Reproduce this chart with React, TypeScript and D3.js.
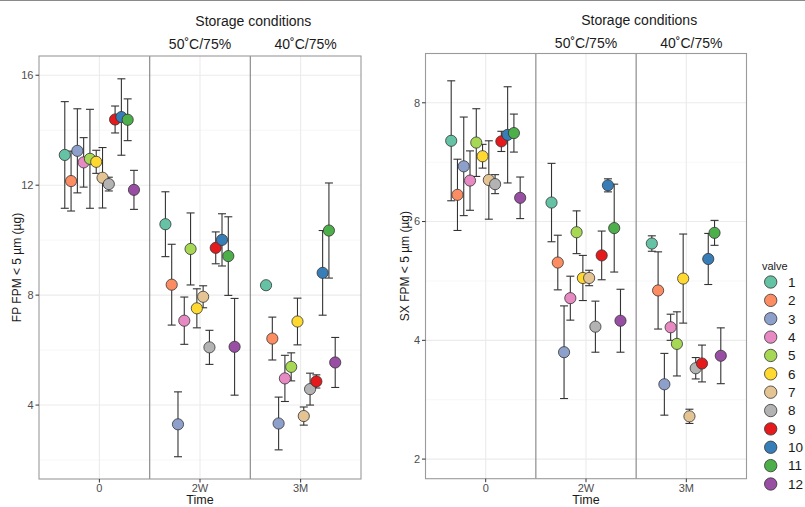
import React from "react";
import * as d3 from "d3";

const timePoints = ["0", "2W", "3M"];
const valves = ["1", "2", "3", "4", "5", "6", "7", "8", "9", "10", "11", "12"];
const valveColors = [
  "#66C2A5", "#FC8D62", "#8DA0CB", "#E78AC3", "#A6D854", "#FFD92F",
  "#E5C494", "#B3B3B3", "#E41A1C", "#377EB8", "#4DAF4A", "#984EA3",
];

// FP FPM < 5 µm (µg): mean and SD per time point (rows) per valve (cols)
const fpMean = [
  [13.10, 12.15, 13.25, 12.83, 12.96, 12.85, 12.27, 12.04, 14.39, 14.48, 14.38, 11.83],
  [10.58, 8.38, 3.30, 7.07, 9.68, 7.52, 7.94, 6.10, 9.72, 10.01, 9.42, 6.12],
  [8.36, 6.42, 3.33, 4.97, 5.39, 7.04, 3.60, 4.58, 4.86, 8.81, 10.35, 5.55],
];
const fpSd = [
  [1.94, 1.09, 1.53, 0.90, 1.80, 0.42, 1.10, 0.25, 0.49, 1.39, 0.76, 0.71],
  [1.18, 1.47, 1.18, 0.86, 1.31, 0.71, 0.40, 0.62, 0.58, 0.95, 1.43, 1.76],
  [0, 0.78, 0.96, 0.84, 0.51, 0.85, 0.33, 0.58, 0.24, 1.54, 1.73, 0.91],
];

// SX FPM < 5 µm (µg)
const sxMean = [
  [7.36, 6.45, 6.93, 6.69, 7.33, 7.10, 6.70, 6.63, 7.35, 7.46, 7.49, 6.40],
  [6.32, 5.31, 3.80, 4.71, 5.82, 5.05, 5.05, 4.23, 5.43, 6.61, 5.89, 4.33],
  [5.63, 4.84, 3.26, 4.22, 3.94, 5.04, 2.72, 3.53, 3.61, 5.37, 5.81, 3.74],
];
const sxSd = [
  [1.01, 0.60, 0.83, 0.50, 0.57, 0.20, 0.66, 0.16, 0.17, 0.81, 0.32, 0.35],
  [0.66, 0.46, 0.78, 0.37, 0.36, 0.38, 0.13, 0.43, 0.41, 0.11, 0.74, 0.53],
  [0.13, 0.65, 0.52, 0.22, 0.54, 0.75, 0.12, 0.18, 0.31, 0.43, 0.21, 0.47],
];

const fpTicks = [4, 8, 12, 16];
const fpMinor = [2, 6, 10, 14];
const sxTicks = [2, 4, 6, 8];
const sxMinor = [3, 5, 7];

const stripLabels = ["50˚C/75%", "40˚C/75%"];
const FONT = "Liberation Sans, Arial, Helvetica, sans-serif";

type PanelProps = {
  x0: number; x1: number; y0: number; y1: number;
  domain: [number, number];
  ticks: number[]; minor: number[];
  mean: number[][]; sd: number[][];
  yLabel: string; yLabelX: number;
  titleY: number; stripY: number;
};

function Panel(p: PanelProps) {
  const x = d3.scalePoint<string>().domain(timePoints).range([p.x0, p.x1]).padding(0.6);
  const step = x.step();
  const y = d3.scaleLinear().domain(p.domain).range([p.y1, p.y0]);
  const dodge = (i: number) => ((i - (valves.length - 1) / 2) / valves.length) * 0.75 * step;
  const capHalf = 4;
  const sep1 = (x("0")! + x("2W")!) / 2;
  const sep2 = (x("2W")! + x("3M")!) / 2;
  const strip1 = (sep1 + sep2) / 2;
  const strip2 = (sep2 + p.x1) / 2;
  const titleX = (sep1 + p.x1) / 2 - 2;
  const midY = (p.y0 + p.y1) / 2;

  return (
    <g>
      <rect x={p.x0} y={p.y0} width={p.x1 - p.x0} height={p.y1 - p.y0} fill="#ffffff" />
      {p.minor.map((v) => (
        <line key={"mn" + v} x1={p.x0} x2={p.x1} y1={y(v)} y2={y(v)} stroke="#f2f2f2" strokeWidth={0.6} />
      ))}
      {p.ticks.map((v) => (
        <line key={"mj" + v} x1={p.x0} x2={p.x1} y1={y(v)} y2={y(v)} stroke="#ebebeb" strokeWidth={1.1} />
      ))}
      {timePoints.map((t) => (
        <line key={"vx" + t} x1={x(t)} x2={x(t)} y1={p.y0} y2={p.y1} stroke="#ebebeb" strokeWidth={1.1} />
      ))}
      <line x1={sep1} x2={sep1} y1={p.y0} y2={p.y1} stroke="#8c8c8c" strokeWidth={1.2} />
      <line x1={sep2} x2={sep2} y1={p.y0} y2={p.y1} stroke="#8c8c8c" strokeWidth={1.2} />
      <rect x={p.x0} y={p.y0} width={p.x1 - p.x0} height={p.y1 - p.y0} fill="none" stroke="#9a9a9a" strokeWidth={1.1} />

      {/* error bars */}
      {timePoints.map((t, ti) =>
        valves.map((v, vi) => {
          const cx = x(t)! + dodge(vi);
          const m = p.mean[ti][vi];
          const s = p.sd[ti][vi];
          const yt = y(m + s);
          const yb = y(m - s);
          return (
            <g key={"eb" + t + v} stroke="#333333" strokeWidth={1.1}>
              <line x1={cx} x2={cx} y1={yt} y2={yb} />
              <line x1={cx - capHalf} x2={cx + capHalf} y1={yt} y2={yt} />
              <line x1={cx - capHalf} x2={cx + capHalf} y1={yb} y2={yb} />
            </g>
          );
        })
      )}
      {/* points */}
      {timePoints.map((t, ti) =>
        valves.map((v, vi) => (
          <circle
            key={"pt" + t + v}
            cx={x(t)! + dodge(vi)}
            cy={y(p.mean[ti][vi])}
            r={5.6}
            fill={valveColors[vi]}
            stroke="#333333"
            strokeWidth={0.8}
          />
        ))
      )}

      {/* y axis */}
      {p.ticks.map((v) => (
        <g key={"yt" + v}>
          <line x1={p.x0 - 3.5} x2={p.x0} y1={y(v)} y2={y(v)} stroke="#333333" strokeWidth={1} />
          <text x={p.x0 - 5.5} y={y(v)} dy="0.35em" textAnchor="end" fontSize={11} fill="#4d4d4d" fontFamily={FONT}>
            {v}
          </text>
        </g>
      ))}
      {/* x axis */}
      {timePoints.map((t) => (
        <g key={"xt" + t}>
          <line x1={x(t)} x2={x(t)} y1={p.y1} y2={p.y1 + 3.5} stroke="#333333" strokeWidth={1} />
          <text x={x(t)} y={p.y1 + 13} textAnchor="middle" fontSize={11} fill="#4d4d4d" fontFamily={FONT}>
            {t}
          </text>
        </g>
      ))}
      <text x={(p.x0 + p.x1) / 2} y={504} textAnchor="middle" fontSize={12.5} fill="#1a1a1a" fontFamily={FONT}>
        Time
      </text>
      <text
        transform={`translate(${p.yLabelX},${midY}) rotate(-90)`}
        textAnchor="middle"
        dy="0.35em"
        fontSize={12}
        fill="#1a1a1a"
        fontFamily={FONT}
      >
        {p.yLabel}
      </text>

      {/* storage condition labels */}
      <text x={titleX} y={p.titleY} textAnchor="middle" fontSize={14} fill="#1a1a1a" fontFamily={FONT}>
        Storage conditions
      </text>
      <text x={strip1} y={p.stripY} textAnchor="middle" fontSize={14} fill="#1a1a1a" fontFamily={FONT}>
        {stripLabels[0]}
      </text>
      <text x={strip2} y={p.stripY} textAnchor="middle" fontSize={14} fill="#1a1a1a" fontFamily={FONT}>
        {stripLabels[1]}
      </text>
    </g>
  );
}

export default function App() {
  const legendY = d3.scaleLinear().domain([0, valves.length - 1]).range([282, 484]);
  return (
    <svg
      width={805}
      height={507}
      style={{ position: "absolute", left: 0, top: 0, background: "#ffffff" }}
      fontFamily={FONT}
    >
      <rect x={0} y={0} width={805} height={507} fill="#ffffff" />
      <line x1={0} x2={805} y1={0.5} y2={0.5} stroke="#8a8a8a" strokeWidth={1.2} />
      <Panel
        x0={39} x1={361} y0={56} y1={479}
        domain={[1.31, 16.7]}
        ticks={fpTicks} minor={fpMinor}
        mean={fpMean} sd={fpSd}
        yLabel="FP FPM < 5 µm (µg)" yLabelX={17}
        titleY={26} stripY={49}
      />
      <Panel
        x0={425.5} x1={746.5} y0={53.5} y1={478.7}
        domain={[1.67, 8.83]}
        ticks={sxTicks} minor={sxMinor}
        mean={sxMean} sd={sxSd}
        yLabel="SX FPM < 5 µm (µg)" yLabelX={405}
        titleY={24.5} stripY={47.5}
      />
      {/* legend */}
      <text x={762} y={270} fontSize={11} fill="#1a1a1a" fontFamily={FONT}>
        valve
      </text>
      {valves.map((v, i) => (
        <g key={"lg" + v}>
          <circle cx={770.7} cy={legendY(i)} r={6.2} fill={valveColors[i]} stroke="#333333" strokeWidth={0.8} />
          <text x={788} y={legendY(i)} dy="0.36em" fontSize={13.5} fill="#1a1a1a" fontFamily={FONT}>
            {v}
          </text>
        </g>
      ))}
    </svg>
  );
}
